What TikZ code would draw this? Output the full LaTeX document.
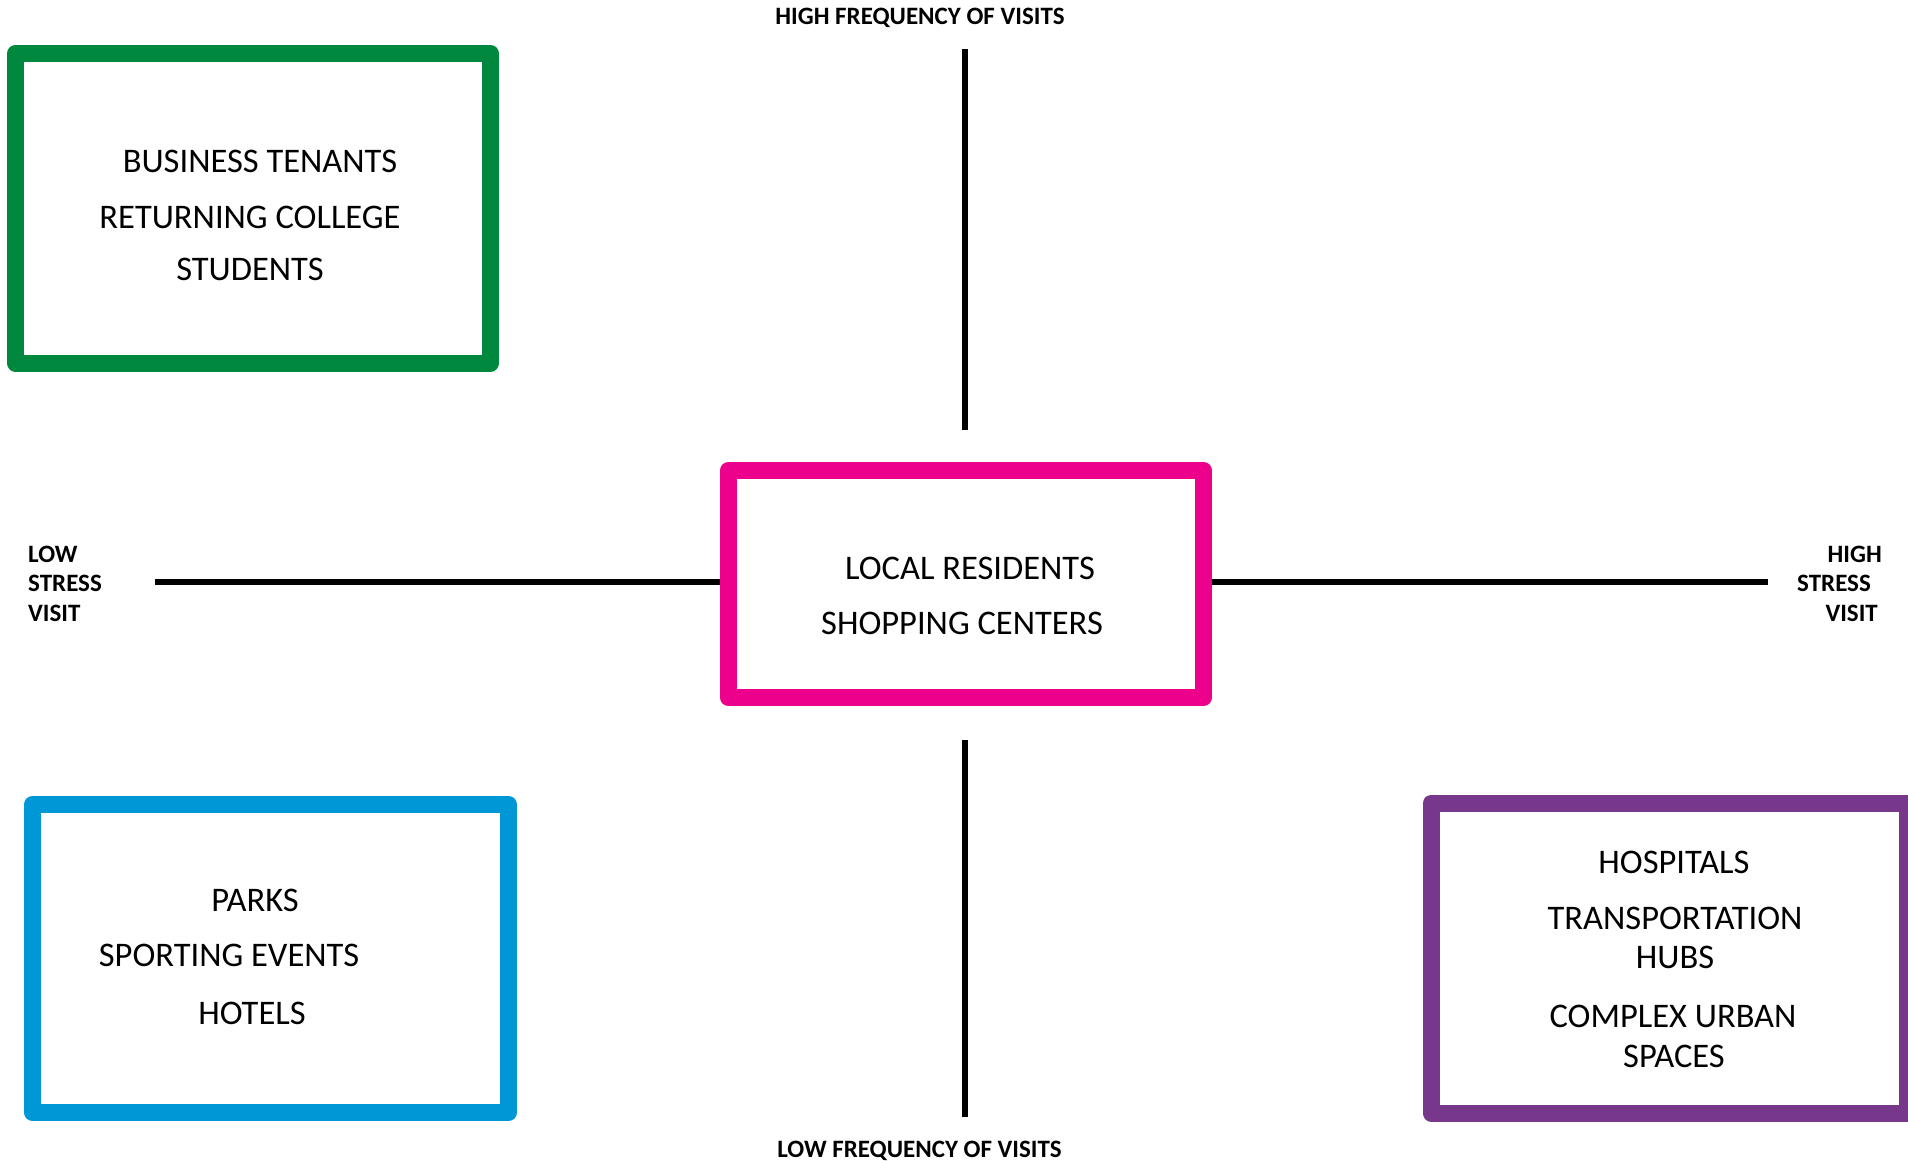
\documentclass[tikz,border=0pt]{standalone}
\usepackage{fontspec}
\setmainfont{Carlito}
\definecolor{qgreen}{RGB}{0,137,62}
\definecolor{qpink}{RGB}{236,0,140}
\definecolor{qblue}{RGB}{0,151,214}
\definecolor{qpurple}{RGB}{119,56,139}
\begin{document}
\begin{tikzpicture}[x=1pt,y=-1pt,
  qbox/.style={draw, line width=17pt, line join=round, fill=white, inner sep=0pt, outer sep=0pt, rectangle},
  axis/.style={line width=6pt, black},
  boxtext/.style={anchor=base, inner sep=0pt, font=\fontsize{34.5}{40}\selectfont},
  axlabel/.style={inner sep=0pt, font=\bfseries\fontsize{25}{30}\selectfont}]
\useasboundingbox (0,0) rectangle (1908,1160);
% axes coordinates
\coordinate (ytop) at (965,49);
\coordinate (ytopend) at (965,430);
\coordinate (ybot) at (965,740);
\coordinate (ybotend) at (965,1117);
\coordinate (xleft) at (155,582);
\coordinate (xright) at (1768,582);
% boxes
\node[qbox, draw=qgreen, minimum width=475pt, minimum height=309.5pt] (green) at (253,208.25) {};
\node[qbox, draw=qblue, minimum width=476pt, minimum height=308pt] (blue) at (270.5,958.5) {};
\node[qbox, draw=qpurple, minimum width=476pt, minimum height=310pt] (purple) at (1669,958) {};
% axes
\draw[axis] (ytop) -- (ytopend);
\draw[axis] (ybot) -- (ybotend);
\draw[axis] (xleft) -- (966,582);
\draw[axis] (966,582) -- (xright);
\node[qbox, draw=qpink, minimum width=475pt, minimum height=227pt] (pink) at (966,584) {};
% axis labels
\node[axlabel, anchor=base] (hf) at (920,24) {HIGH FREQUENCY OF VISITS};
\node[axlabel, anchor=base] (lf) at (919.5,1157) {LOW FREQUENCY OF VISITS};
\node[axlabel, anchor=base west] (ls1) at (28,562) {LOW};
\node[axlabel, anchor=base west] (ls2) at (28,591) {STRESS};
\node[axlabel, anchor=base west] (ls3) at (28,621) {VISIT};
\node[axlabel, anchor=base east] (hs1) at (1882,562) {HIGH};
\node[axlabel, anchor=base west] (hs2) at (1797,591) {STRESS};
\node[axlabel, anchor=base east] (hs3) at (1878,621) {VISIT};
% box texts
\node[boxtext] (g1) at (260,172) {BUSINESS TENANTS};
\node[boxtext] (g2) at (250,228) {RETURNING COLLEGE};
\node[boxtext] (g3) at (250,280) {STUDENTS};
\node[boxtext] (p1) at (970,579) {LOCAL RESIDENTS};
\node[boxtext] (p2) at (962,634) {SHOPPING CENTERS};
\node[boxtext] (u1) at (1674,873) {HOSPITALS};
\node[boxtext] (u2) at (1675,929) {TRANSPORTATION};
\node[boxtext] (u3) at (1675,968) {HUBS};
\node[boxtext] (u4) at (1673,1027) {COMPLEX URBAN};
\node[boxtext] (u5) at (1674,1067) {SPACES};
\node[boxtext] (b1) at (255,911) {PARKS};
\node[boxtext] (b2) at (229,966) {SPORTING EVENTS};
\node[boxtext] (b3) at (252,1024) {HOTELS};
\end{tikzpicture}
\end{document}
